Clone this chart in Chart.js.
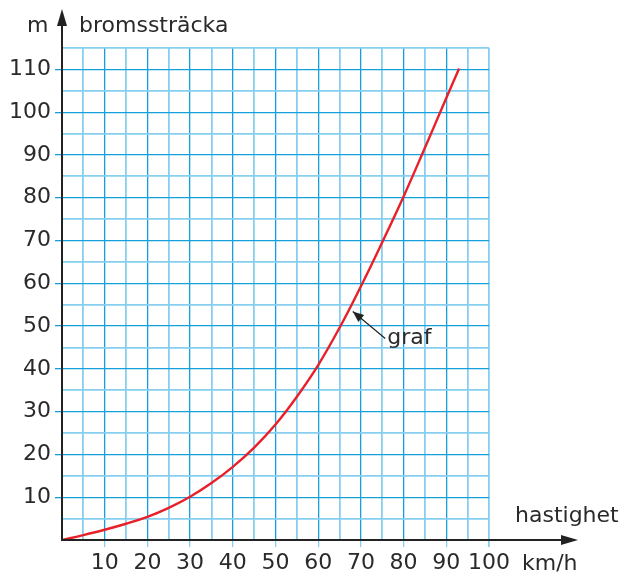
<!DOCTYPE html>
<html>
<head>
<meta charset="utf-8">
<script src="https://cdn.jsdelivr.net/npm/chart.js@4"></script>
<style>
html,body{margin:0;padding:0;background:#fff;}
#wrap{width:624px;height:574px;position:relative;}
</style>
</head>
<body>
<div id="wrap"><canvas id="c" width="624" height="574"></canvas></div>
<script>
// Data
const speed    = [0, 5, 10, 15, 20, 25, 30, 35, 40, 45, 50, 55, 60, 65, 70, 75, 80, 85, 90, 93];
const distance = [0, 1.15, 2.4, 3.8, 5.4, 7.5, 10.1, 13.3, 17.1, 21.6, 27, 33.5, 40.9, 49.6, 59.3, 69.6, 80.3, 91.7, 103.3, 110.2];
const xTicks = [10, 20, 30, 40, 50, 60, 70, 80, 90, 100];
const yTicks = [10, 20, 30, 40, 50, 60, 70, 80, 90, 100, 110];
const xMax = 100, yMax = 115, step = 5;
const yTitle = 'bromssträcka', yUnit = 'm', xTitle = 'hastighet', xUnit = 'km/h';
const noteText = 'graf';
const noteTip = {x: 68.1, y: 53.4};
const noteTail = {x: 75.7, y: 47.1};

const FONT = '"DejaVu Sans", sans-serif';
const FSIZE = 22;
const TXT = '#2a2a2a';
const DARK = '#14a0dc';
const LIGHT = '#86cff0';

const points = speed.map((v, i) => ({x: v, y: distance[i]}));

function gridColor(ctx, max) {
  const v = ctx.tick ? ctx.tick.value : null;
  if (v === null || v === max) return LIGHT;
  return v % 10 === 0 ? DARK : LIGHT;
}

const axesPlugin = {
  id: 'axesPlugin',
  afterDraw(chart) {
    const {ctx, scales: {x, y}} = chart;
    const ox = x.getPixelForValue(0), oy = y.getPixelForValue(0);
    ctx.save();
    ctx.strokeStyle = '#222'; ctx.fillStyle = '#222'; ctx.lineWidth = 2;
    // y axis
    ctx.beginPath(); ctx.moveTo(ox, oy + 1); ctx.lineTo(ox, 22); ctx.stroke();
    ctx.beginPath(); ctx.moveTo(ox, 9); ctx.lineTo(ox - 5, 26); ctx.lineTo(ox + 5, 26); ctx.closePath(); ctx.fill();
    // x axis
    ctx.beginPath(); ctx.moveTo(ox - 1, oy); ctx.lineTo(565, oy); ctx.stroke();
    ctx.beginPath(); ctx.moveTo(578, oy); ctx.lineTo(561, oy - 5); ctx.lineTo(561, oy + 5); ctx.closePath(); ctx.fill();
    // texts
    ctx.fillStyle = TXT;
    ctx.font = FSIZE + 'px ' + FONT;
    ctx.textBaseline = 'alphabetic';
    ctx.textAlign = 'left';
    ctx.fillText(yUnit, 27, 32);
    ctx.fillText(yTitle, 79, 32);
    ctx.fillText(xTitle, 515, 522);
    ctx.fillText(xUnit, 522, 570);
    // annotation
    const tx = x.getPixelForValue(noteTip.x), ty = y.getPixelForValue(noteTip.y);
    const sx = x.getPixelForValue(noteTail.x), sy = y.getPixelForValue(noteTail.y);
    ctx.strokeStyle = '#222'; ctx.lineWidth = 1.2;
    ctx.beginPath(); ctx.moveTo(sx, sy); ctx.lineTo(tx, ty); ctx.stroke();
    const ang = Math.atan2(ty - sy, tx - sx);
    const L = 11, W = 4.5;
    const bx = tx - L * Math.cos(ang), by = ty - L * Math.sin(ang);
    ctx.beginPath();
    ctx.moveTo(tx, ty);
    ctx.lineTo(bx + W * Math.sin(ang), by - W * Math.cos(ang));
    ctx.lineTo(bx - W * Math.sin(ang), by + W * Math.cos(ang));
    ctx.closePath(); ctx.fillStyle = '#222'; ctx.fill();
    ctx.fillStyle = TXT;
    ctx.fillText(noteText, sx + 2, sy + 6);
    ctx.restore();
  }
};

new Chart(document.getElementById('c'), {
  type: 'scatter',
  data: {
    datasets: [{
      data: points,
      showLine: true,
      borderColor: '#e8202a',
      borderWidth: 2.4,
      pointRadius: 0,
      tension: 0.4,
      fill: false
    }]
  },
  options: {
    responsive: false,
    animation: false,
    devicePixelRatio: 1,
    layout: {padding: {left: 0, top: 48, right: 135, bottom: 0}},
    plugins: {legend: {display: false}, tooltip: {enabled: false}},
    scales: {
      x: {
        type: 'linear', min: 0, max: xMax,
        afterFit(s) { s.height = 34; },
        border: {display: false},
        grid: {
          color: c => gridColor(c, xMax),
          lineWidth: c => (c.tick && c.tick.value % 10 === 0 && c.tick.value !== xMax) ? 1.3 : 1.8,
          drawTicks: true, tickLength: 7,
          tickColor: c => (c.tick && c.tick.value % 10 === 0 && c.tick.value > 0) ? LIGHT : 'rgba(0,0,0,0)'
        },
        ticks: {
          stepSize: step, autoSkip: false, maxRotation: 0, padding: 3,
          color: TXT, font: {family: FONT, size: FSIZE},
          callback: v => xTicks.includes(v) ? String(v) : ''
        }
      },
      y: {
        type: 'linear', min: 0, max: yMax,
        afterFit(s) { s.width = 62; },
        border: {display: false},
        grid: {
          color: c => gridColor(c, yMax),
          lineWidth: c => (c.tick && c.tick.value % 10 === 0) ? 1.3 : 1.8,
          drawTicks: true, tickLength: 7,
          tickColor: c => (c.tick && c.tick.value % 10 === 0 && c.tick.value > 0) ? DARK : 'rgba(0,0,0,0)'
        },
        ticks: {
          stepSize: step, autoSkip: false, padding: 4,
          color: TXT, font: {family: FONT, size: FSIZE},
          callback: v => yTicks.includes(v) ? String(v) : ''
        }
      }
    }
  },
  plugins: [axesPlugin]
});
</script>
</body>
</html>
